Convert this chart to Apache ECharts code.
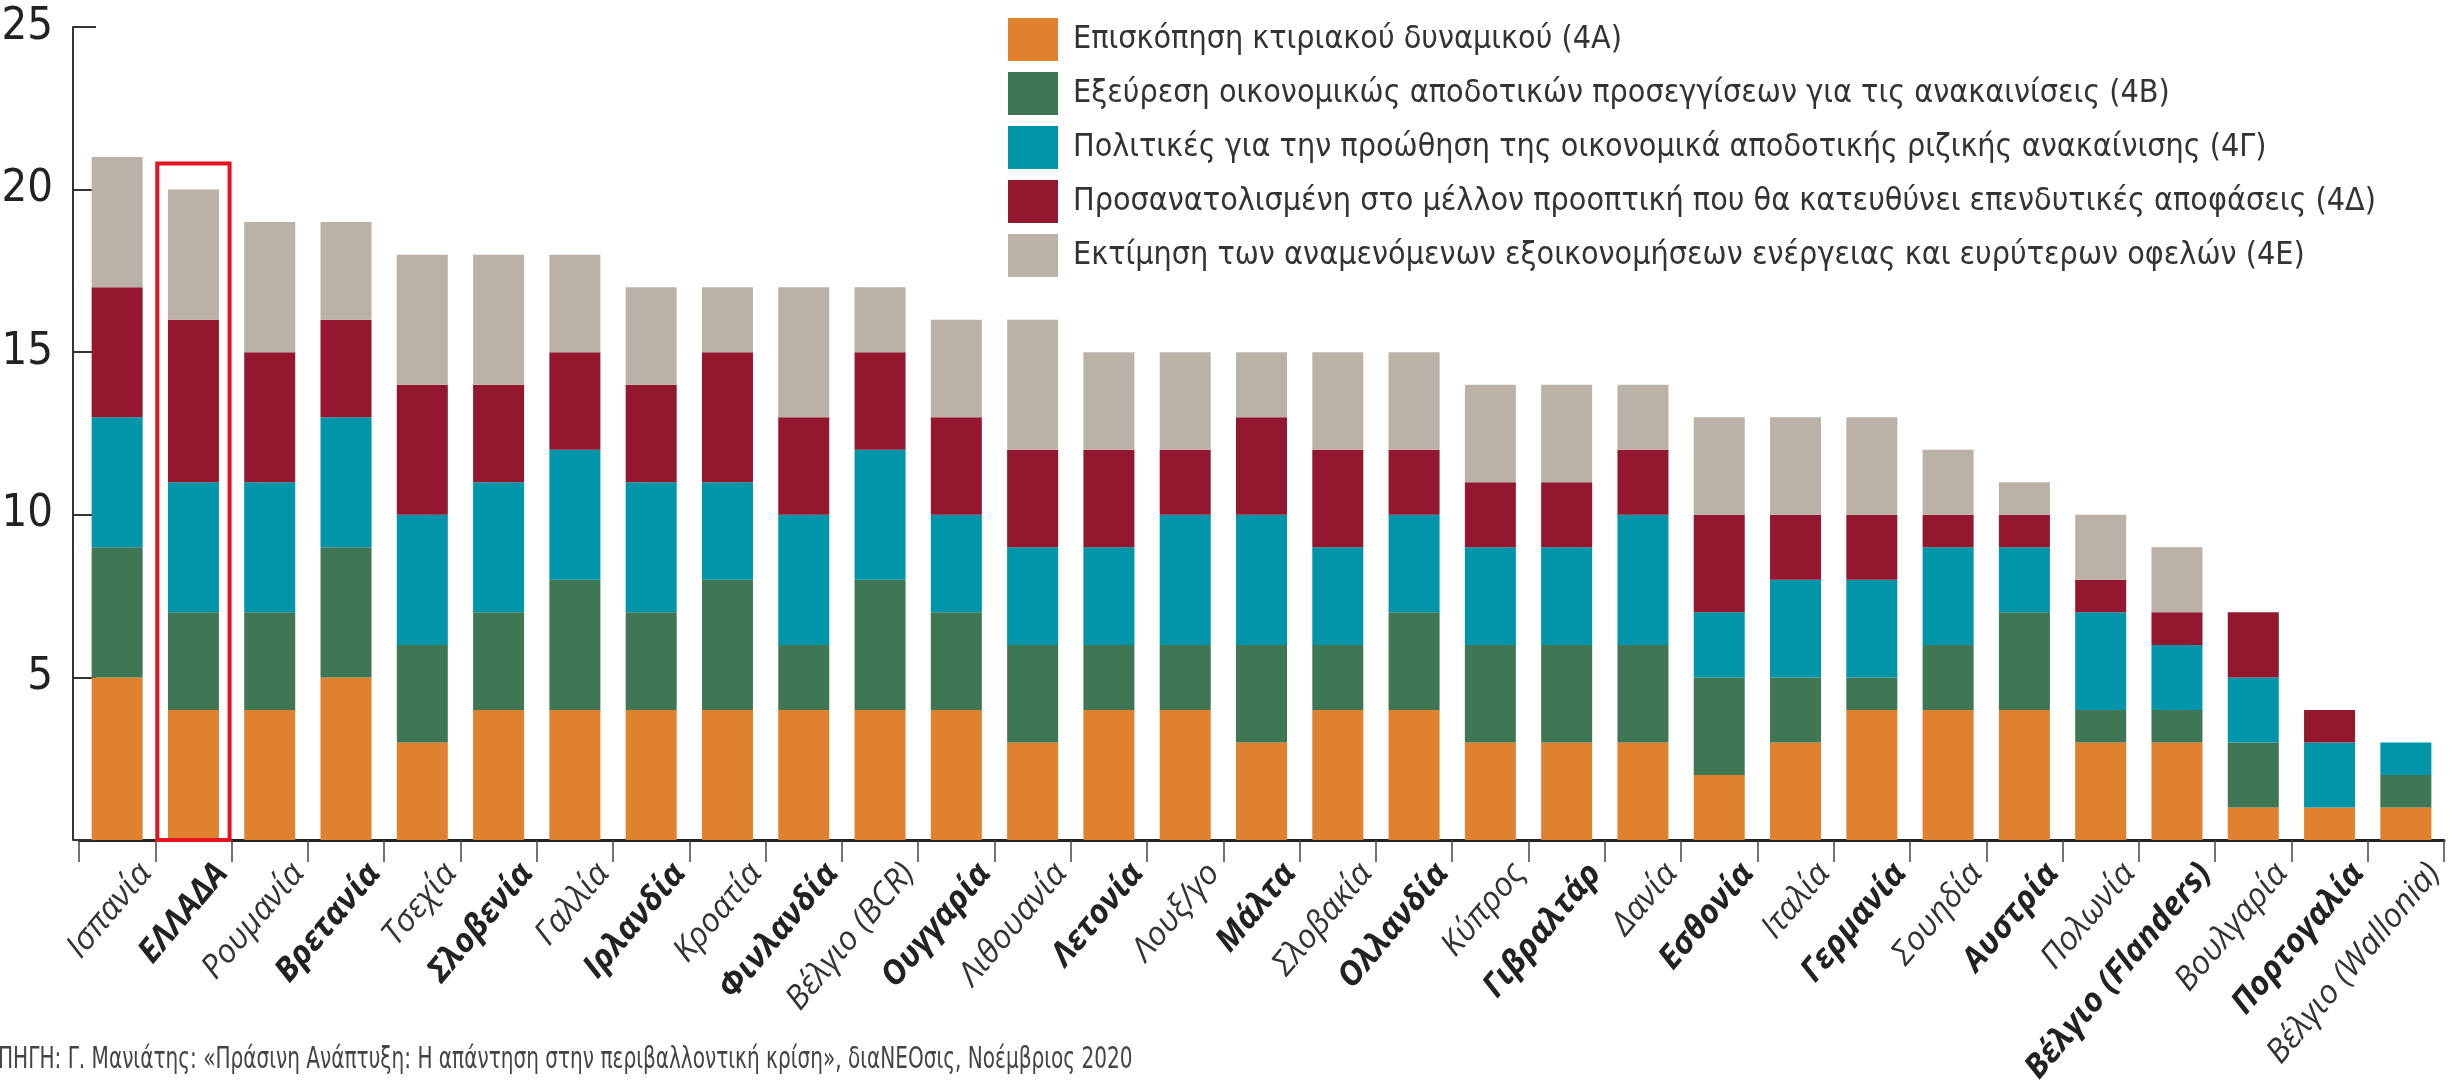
<!DOCTYPE html>
<html>
<head>
<meta charset="utf-8">
<script src="https://cdn.jsdelivr.net/npm/echarts@6/dist/echarts.min.js"></script>
<style>
html,body{margin:0;padding:0;background:#fff;}
#chart{width:2463px;height:1080px;}
</style>
</head>
<body>
<div id="chart"></div>
<script>
const categories = ['Ισπανία','ΕΛΛΑΔΑ','Ρουμανία','Βρετανία','Τσεχία','Σλοβενία','Γαλλία','Ιρλανδία','Κροατία','Φινλανδία','Βέλγιο (BCR)','Ουγγαρία','Λιθουανία','Λετονία','Λουξ/γο','Μάλτα','Σλοβακία','Ολλανδία','Κύπρος','Γιβραλτάρ','Δανία','Εσθονία','Ιταλία','Γερμανία','Σουηδία','Αυστρία','Πολωνία','Βέλγιο (Flanders)','Βουλγαρία','Πορτογαλία','Βέλγιο (Wallonia)'];
const boldCategories = ['ΕΛΛΑΔΑ','Βρετανία','Σλοβενία','Ιρλανδία','Φινλανδία','Ουγγαρία','Λετονία','Μάλτα','Ολλανδία','Γιβραλτάρ','Εσθονία','Γερμανία','Αυστρία','Βέλγιο (Flanders)','Πορτογαλία'];
const seriesNames = [
  'Επισκόπηση κτιριακού δυναμικού (4Α)',
  'Εξεύρεση οικονομικώς αποδοτικών προσεγγίσεων για τις ανακαινίσεις (4Β)',
  'Πολιτικές για την προώθηση της οικονομικά αποδοτικής ριζικής ανακαίνισης (4Γ)',
  'Προσανατολισμένη στο μέλλον προοπτική που θα κατευθύνει επενδυτικές αποφάσεις (4Δ)',
  'Εκτίμηση των αναμενόμενων εξοικονομήσεων ενέργειας και ευρύτερων οφελών (4Ε)'
];
const values4A = [5,4,4,5,3,4,4,4,4,4,4,4,3,4,4,3,4,4,3,3,3,2,3,4,4,4,3,3,1,1,1];
const values4B = [4,3,3,4,3,3,4,3,4,2,4,3,3,2,2,3,2,3,3,3,3,3,2,1,2,3,1,1,2,0,1];
const values4G = [4,4,4,4,4,4,4,4,3,4,4,3,3,3,4,4,3,3,3,3,4,2,3,3,3,2,3,2,2,2,1];
const values4D = [4,5,4,3,4,3,3,3,4,3,3,3,3,3,2,3,3,2,2,2,2,3,2,2,1,1,1,1,2,1,0];
const values4E = [4,4,4,3,4,4,3,3,2,4,2,3,4,3,3,2,3,3,3,3,2,3,3,3,2,1,2,2,0,0,0];
const yTicks = [0,5,10,15,20,25];
const highlight = [['ΕΛΛΑΔΑ', 20.8]];
const sourceText = 'ΠΗΓΗ: Γ. Μανιάτης: «Πράσινη Ανάπτυξη: Η απάντηση στην περιβαλλοντική κρίση», διαΝΕΟσις, Νοέμβριος 2020';

const colors = ['#DF812E','#3F7754','#0095A9','#93172F','#BBB2A7'];
const FONT = '"Liberation Sans Narrow","DejaVu Sans Condensed","Roboto",sans-serif';
const LABEL_FONT = '"Open Sans","DejaVu Sans",sans-serif';
const allValues = [values4A, values4B, values4G, values4D, values4E];

const chart = echarts.init(document.getElementById('chart'), null, {renderer:'canvas'});
const barSeries = allValues.map((vals, i) => ({
  name: seriesNames[i],
  type: 'bar',
  stack: 'total',
  barWidth: 51,
  data: vals,
  itemStyle: {color: colors[i]},
  emphasis: {disabled: true}
}));

const option = {
  animation: false,
  color: colors,
  grid: {left: 79, right: 19, top: 27, bottom: 240, containLabel: false, outerBoundsMode: 'none'},
  legend: {
    data: seriesNames,
    orient: 'vertical',
    left: 1003,
    top: 13,
    itemWidth: 50,
    itemHeight: 43,
    itemGap: 11,
    icon: 'rect',
    selectedMode: false,
    textStyle: {fontFamily: FONT, fontSize: 32, color: '#333', padding: [0,0,0,10]}
  },
  xAxis: {
    type: 'category',
    data: categories,
    axisLine: {lineStyle: {color: '#222', width: 3}},
    axisTick: {show: true, length: 22, lineStyle: {color: '#444', width: 1.5}},
    axisLabel: {
      rotate: 50,
      margin: 4,
      interval: 0,
      verticalAlign: 'top',
      formatter: (v) => boldCategories.includes(v) ? '{b|' + v + '}' : '{n|' + v + '}',
      rich: {
        b: {fontFamily: LABEL_FONT, fontWeight: 'bold', fontStyle: 'italic', fontSize: 33, lineHeight: 74, color: '#222'},
        n: {fontFamily: LABEL_FONT, fontWeight: 'normal', fontStyle: 'italic', fontSize: 33, lineHeight: 74, color: '#333'}
      }
    }
  },
  yAxis: {
    type: 'value',
    min: 0,
    max: 25,
    interval: 5,
    offset: 6,
    axisLine: {show: true, lineStyle: {color: '#333', width: 2}},
    axisTick: {show: true, inside: true, length: 23, lineStyle: {color: '#333', width: 2}},
    splitLine: {show: false},
    axisLabel: {
      margin: 20,
      fontFamily: FONT,
      fontSize: 45,
      color: '#222',
      formatter: (v) => yTicks.includes(v) && v !== 0 ? String(v) : ''
    }
  },
  series: barSeries.concat([{
    type: 'custom',
    name: 'highlight',
    z: 5,
    data: highlight,
    encode: {x: 0, y: 1},
    renderItem: (params, api) => {
      const idx = api.value(0);
      const p0 = api.coord([idx, 0]);
      const p1 = api.coord([idx, api.value(1)]);
      const w = api.size([1, 0])[0];
      return {
        type: 'rect',
        shape: {x: p0[0] - w / 2 + 2, y: p1[1], width: w - 4, height: p0[1] - p1[1]},
        style: {fill: null, stroke: '#E3141F', lineWidth: 4}
      };
    }
  }]),
  graphic: [{
    type: 'text',
    x: -2,
    y: 1044,
    scaleX: 0.72,
    style: {text: sourceText, fontFamily: FONT, fontSize: 31, fill: '#444'}
  }]
};
chart.setOption(option);
</script>
</body>
</html>
